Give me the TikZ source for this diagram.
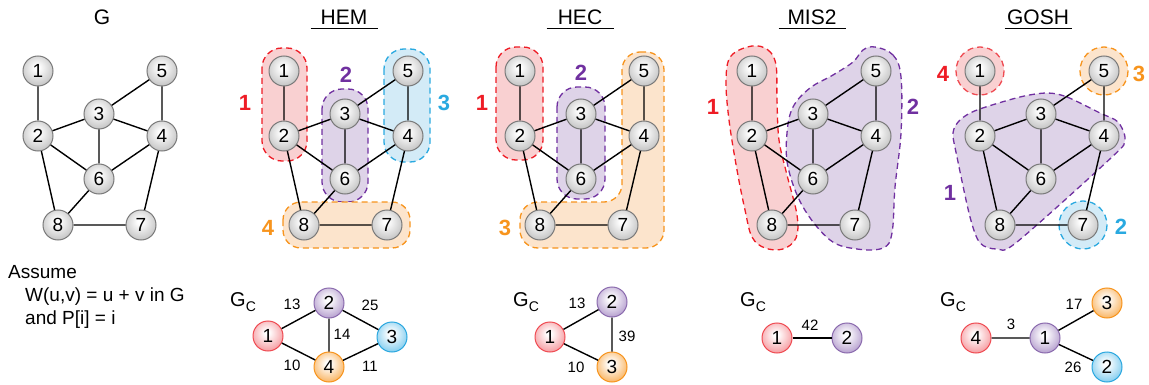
\documentclass[tikz,border=0pt]{standalone}
\usepackage{fontspec}
\setmainfont{Liberation Sans}
\usetikzlibrary{calc}

% palette
\definecolor{cgray}{HTML}{C2C2C2}
\definecolor{cgrayrim}{HTML}{B0B0B0}
\definecolor{cgrayline}{HTML}{7A7A7A}
\definecolor{cred}{HTML}{EE1C25}
\definecolor{credfill}{HTML}{F9D0D1}
\definecolor{credball}{HTML}{F48A90}
\definecolor{credline}{HTML}{EF4B52}
\definecolor{cpur}{HTML}{7030A0}
\definecolor{cpurfill}{HTML}{DED3E8}
\definecolor{cpurball}{HTML}{A98FC6}
\definecolor{cpurline}{HTML}{8B6BAE}
\definecolor{cblue}{HTML}{29A9E0}
\definecolor{cbluefill}{HTML}{D3EBF7}
\definecolor{cblueball}{HTML}{6CC4EC}
\definecolor{cblueline}{HTML}{2AA7DF}
\definecolor{corange}{HTML}{F7941D}
\definecolor{corangefill}{HTML}{FCE4CC}
\definecolor{corangeball}{HTML}{F8A848}
\definecolor{corangeline}{HTML}{F7941D}

% glossy vertex shadings (node rim sits at about 35bp)
\pgfdeclareradialshading{shgray}{\pgfpoint{-2bp}{6bp}}{color(0bp)=(white); color(4bp)=(white); color(30bp)=(cgray); color(40bp)=(cgrayrim); color(100bp)=(cgrayrim)}
\pgfdeclareradialshading{shred}{\pgfpoint{-2bp}{6bp}}{color(0bp)=(white); color(4bp)=(white); color(34bp)=(credball); color(100bp)=(credball)}
\pgfdeclareradialshading{shpur}{\pgfpoint{-2bp}{6bp}}{color(0bp)=(white); color(4bp)=(white); color(34bp)=(cpurball); color(100bp)=(cpurball)}
\pgfdeclareradialshading{shblue}{\pgfpoint{-2bp}{6bp}}{color(0bp)=(white); color(4bp)=(white); color(34bp)=(cblueball); color(100bp)=(cblueball)}
\pgfdeclareradialshading{shorange}{\pgfpoint{-2bp}{6bp}}{color(0bp)=(white); color(4bp)=(white); color(34bp)=(corangeball); color(100bp)=(corangeball)}

\tikzset{
  vtx/.style={circle, minimum size=30pt, inner sep=0pt, line width=1pt,
    font=\fontsize{19}{19}\selectfont},
  gn/.style={vtx, draw=cgrayline, shading=shgray},
  rn/.style={vtx, draw=credline, shading=shred},
  pn/.style={vtx, draw=cpurline, shading=shpur},
  bn/.style={vtx, draw=cblueline, shading=shblue},
  on/.style={vtx, draw=corangeline, shading=shorange},
  edge/.style={line width=1.4pt, black},
  grp/.style={dash pattern=on 6pt off 4pt, line width=1.3pt},
  redgrp/.style={grp, draw=cred, fill=credfill},
  purgrp/.style={grp, draw=cpur, fill=cpurfill},
  bluegrp/.style={grp, draw=cblue, fill=cbluefill},
  orangegrp/.style={grp, draw=corange, fill=corangefill},
  glabel/.style={font=\bfseries\fontsize{22}{22}\selectfont, inner sep=0pt},
  title/.style={font=\fontsize{21}{21}\selectfont, inner sep=0pt},
  uline/.style={line width=1.4pt},
  wt/.style={font=\fontsize{15}{15}\selectfont, inner sep=0pt},
  txt/.style={font=\fontsize{19}{19}\selectfont, inner sep=0pt, anchor=base west},
  gc/.style={inner sep=0pt, anchor=base west},
}

% the eight-vertex graph, shifted right by #2
\newcommand\basegraph[2]{%
  \begin{scope}[shift={(#2,0)}]
    \node[gn] (#1-1) at (38,71) {1};
    \node[gn] (#1-2) at (38,136) {2};
    \node[gn] (#1-3) at (99,114) {3};
    \node[gn] (#1-4) at (162,136) {4};
    \node[gn] (#1-5) at (162,71) {5};
    \node[gn] (#1-6) at (99,179) {6};
    \node[gn] (#1-7) at (141,225) {7};
    \node[gn] (#1-8) at (58,225) {8};
  \end{scope}
  \draw[edge] (#1-1) -- (#1-2)  (#1-2) -- (#1-3)  (#1-2) -- (#1-6)
              (#1-2) -- (#1-8)  (#1-3) -- (#1-5)  (#1-3) -- (#1-4)
              (#1-3) -- (#1-6)  (#1-4) -- (#1-5)  (#1-4) -- (#1-6)
              (#1-4) -- (#1-7)  (#1-6) -- (#1-8)  (#1-8) -- (#1-7);
}

\newcommand\gcsym{{\fontsize{20}{20}\selectfont G}\raisebox{-5pt}{\fontsize{14}{14}\selectfont C}}

\begin{document}
\begin{tikzpicture}[x=1pt,y=-1pt]
\useasboundingbox (0,0) rectangle (1149,385);

% ---- group outlines ----
% HEM
\path[redgrp, rounded corners=20pt] (262,48) rectangle (307,161);
\path[purgrp, rounded corners=20pt] (322,89) rectangle (368,202);
\path[bluegrp, rounded corners=20pt] (384,49) rectangle (430,162);
\path[orangegrp, rounded corners=18pt] (283,202) rectangle (410,248);
% HEC
\path[redgrp, rounded corners=20pt] (496,47) rectangle (543,160);
\path[purgrp, rounded corners=20pt] (557,87) rectangle (605,199);
\path[orangegrp, rounded corners=18pt] (622,52) -- (664,52) -- (664,248) -- (520,248)
   -- (520,202) -- (622,202) -- cycle;
% MIS2
\path[redgrp] plot[smooth cycle, tension=0.6] coordinates {
  (752,46) (768,50) (776,65) (777,100) (779,140) (787,175) (797,215) (796,238)
  (783,249) (765,248) (752,237) (745,210) (737,170) (729,120) (726,80) (731,56)};
\path[purgrp] plot[smooth cycle, tension=0.6] coordinates {
  (875,47) (893,55) (901,77) (901,133) (895,187) (892,233) (883,248) (857,249)
  (830,240) (803,207) (788,167) (787,133) (793,107) (810,88) (833,75) (853,62) (863,50)};
% GOSH
\path[purgrp] plot[smooth cycle, tension=0.5] coordinates {
  (1047,93) (1067,97) (1100,113) (1118,122) (1125,140) (1112,157) (1017,242)
  (997,249) (980,243) (970,217) (957,157) (953,133) (960,120) (977,110) (1020,97)};
\path[redgrp, draw=credline] (980,71) circle[radius=24];
\path[orangegrp] (1104,71) circle[radius=24];
\path[bluegrp] (1083,225) circle[radius=24];

% ---- the five copies of the graph ----
\basegraph{g}{0}
\basegraph{hem}{246}
\basegraph{hec}{482}
\basegraph{mis}{714}
\basegraph{gosh}{942}

% ---- titles ----
\node[title] (tg) at (102,17) {G};
\node[title] (them) at (344,17) {HEM};
\node[title] (thec) at (580,17) {HEC};
\node[title] (tmis) at (812,17) {MIS2};
\node[title] (tgosh) at (1038,17) {GOSH};
\foreach \t in {them,thec,tmis,tgosh}
  \draw[uline] ([xshift=-33.5pt,yshift=-4pt]\t.base) -- ([xshift=33.5pt,yshift=-4pt]\t.base);

% ---- group numbers ----
\node[glabel, text=cred] (lhem1) at (245,103) {1};
\node[glabel, text=cpur] (lhem2) at (346,75) {2};
\node[glabel, text=cblue] (lhem3) at (444,103) {3};
\node[glabel, text=corange] (lhem4) at (268,228) {4};
\node[glabel, text=cred] (lhec1) at (482,103) {1};
\node[glabel, text=cpur] (lhec2) at (581,73) {2};
\node[glabel, text=corange] (lhec3) at (505,228) {3};
\node[glabel, text=cred] (lmis1) at (713,107) {1};
\node[glabel, text=cpur] (lmis2) at (913,107) {2};
\node[glabel, text=cred] (lgosh4) at (943,74) {4};
\node[glabel, text=corange] (lgosh3) at (1139,74) {3};
\node[glabel, text=cpur] (lgosh1) at (950,193) {1};
\node[glabel, text=cblue] (lgosh2) at (1121,227) {2};

% ---- assumptions ----
\node[txt] (as1) at (8,278) {Assume};
\node[txt] (as2) at (25,301) {W(u,v) = u + v in G};
\node[txt] (as3) at (25,324) {and P[i] = i};

% ---- coarse graphs ----
% HEM
\node[gc] (gchem) at (230,306) {\gcsym};
\node[rn] (ch1) at (268,336) {1};
\node[pn] (ch2) at (329,303) {2};
\node[bn] (ch3) at (392,337) {3};
\node[on] (ch4) at (329,367) {4};
\draw[edge] (ch1) -- (ch2)  (ch1) -- (ch4)  (ch2) -- (ch4)  (ch2) -- (ch3)  (ch4) -- (ch3);
\node[wt] (wh13) at (292,304) {13};
\node[wt] (wh25) at (370,305) {25};
\node[wt] (wh14) at (342,334) {14};
\node[wt] (wh10) at (292,365) {10};
\node[wt] (wh11) at (370,366) {11};
% HEC
\node[gc] (gchec) at (513,306) {\gcsym};
\node[rn] (cc1) at (550,337) {1};
\node[pn] (cc2) at (612,302) {2};
\node[on] (cc3) at (612,367) {3};
\draw[edge] (cc1) -- (cc2)  (cc1) -- (cc3)  (cc2) -- (cc3);
\node[wt] (wc13) at (577,303) {13};
\node[wt] (wc39) at (627,336) {39};
\node[wt] (wc10) at (576,367) {10};
% MIS2
\node[gc] (gcmis) at (740,306) {\gcsym};
\node[rn] (cm1) at (777,338) {1};
\node[pn] (cm2) at (847,338) {2};
\draw[edge] (cm1) -- (cm2);
\node[wt] (wm42) at (810,325) {42};
% GOSH
\node[gc] (gcgosh) at (940,306) {\gcsym};
\node[rn] (cg4) at (976,338) {4};
\node[pn] (cg1) at (1045,338) {1};
\node[on] (cg3) at (1107,303) {3};
\node[bn] (cg2) at (1107,367) {2};
\draw[edge] (cg4) -- (cg1)  (cg1) -- (cg3)  (cg1) -- (cg2);
\node[wt] (wg3) at (1011,324) {3};
\node[wt] (wg17) at (1074,304) {17};
\node[wt] (wg26) at (1073,367) {26};
\end{tikzpicture}
\end{document}
